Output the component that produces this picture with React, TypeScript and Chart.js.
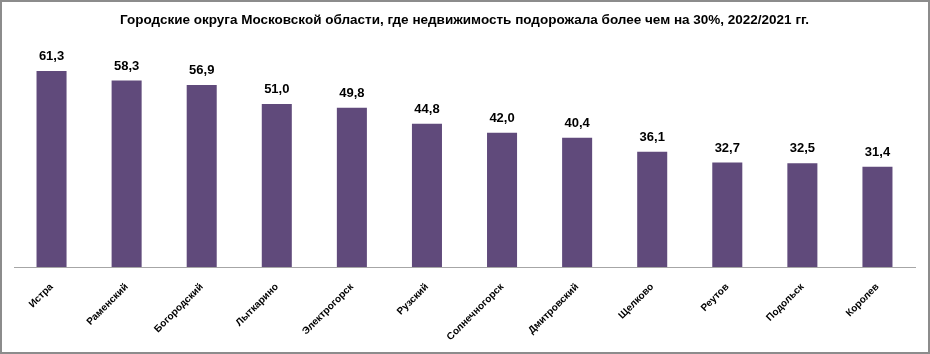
import React, { useEffect, useRef } from "react";
import { Chart, registerables } from "chart.js";

Chart.register(...registerables);

const categories = [
  "Истра",
  "Раменский",
  "Богородский",
  "Лыткарино",
  "Электрогорск",
  "Рузский",
  "Солнечногорск",
  "Дмитровский",
  "Щелково",
  "Реутов",
  "Подольск",
  "Королев",
];
const values = [61.3, 58.3, 56.9, 51.0, 49.8, 44.8, 42.0, 40.4, 36.1, 32.7, 32.5, 31.4];
const titleText =
  "Городские округа Московской области, где недвижимость подорожала более чем на 30%, 2022/2021 гг.";

const FONT = "'Liberation Sans', Arial, sans-serif";

const valueLabels = {
  id: "valueLabels",
  afterDatasetsDraw(chart: any) {
    const ctx = chart.ctx;
    const meta = chart.getDatasetMeta(0);
    ctx.save();
    ctx.font = `bold 13px ${FONT}`;
    ctx.fillStyle = "#000";
    ctx.textAlign = "center";
    ctx.textBaseline = "bottom";
    meta.data.forEach((el: any, i: number) => {
      const v = chart.data.datasets[0].data[i] as number;
      ctx.fillText(v.toFixed(1).replace(".", ","), el.x, el.y - 8);
    });
    ctx.restore();
  },
};

export default function App() {
  const ref = useRef<HTMLCanvasElement | null>(null);
  useEffect(() => {
    document.body.style.margin = "0";
    const chart = new Chart(ref.current as HTMLCanvasElement, {
      type: "bar",
      data: {
        labels: categories,
        datasets: [
          {
            data: values,
            backgroundColor: "#604A7B",
            categoryPercentage: 1,
            barPercentage: 0.4,
          },
        ],
      },
      options: {
        animation: false,
        responsive: false,
        layout: { padding: { left: 12, right: 13, top: 0, bottom: 3 } },
        plugins: {
          legend: { display: false },
          tooltip: { enabled: false },
          title: {
            display: true,
            text: titleText,
            color: "#000",
            font: { family: FONT, size: 13.5, weight: "bold" },
            padding: { top: 10, bottom: 15 },
          },
        },
        scales: {
          x: {
            grid: { display: false },
            border: { display: true, color: "#a6a6a6", width: 1 },
            ticks: {
              color: "#000",
              maxRotation: 45,
              minRotation: 45,
              font: { family: FONT, size: 10, weight: "bold" },
              padding: 6,
            },
          },
          y: {
            display: false,
            min: 0,
            max: 70,
          },
        },
      },
      plugins: [valueLabels],
    });
    return () => chart.destroy();
  }, []);
  return (
    <div
      style={{
        width: 930,
        height: 354,
        boxSizing: "border-box",
        border: "2px solid #8c8c8c",
        position: "relative",
        background: "#fff",
      }}
    >
      <canvas ref={ref} width={926} height={350} style={{ display: "block" }} />
    </div>
  );
}
